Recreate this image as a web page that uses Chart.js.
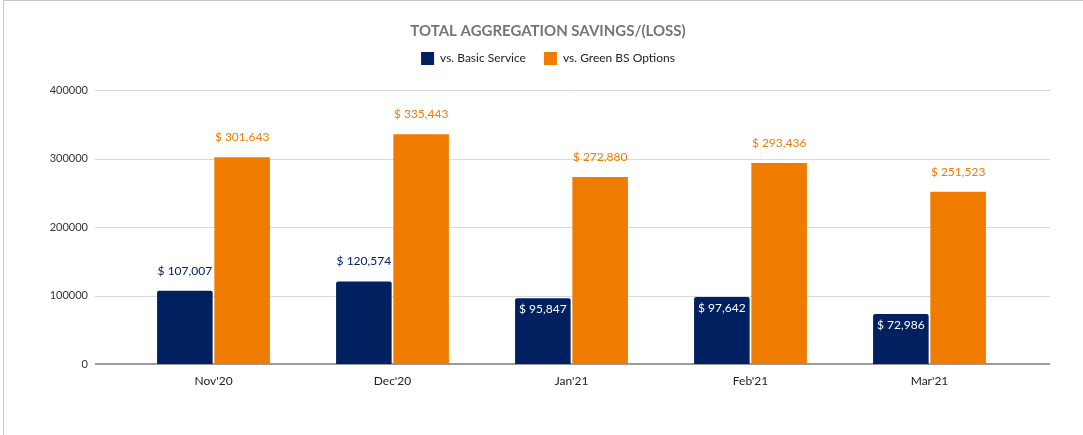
<!DOCTYPE html>
<html>
<head>
<meta charset="utf-8">
<script src="https://cdn.jsdelivr.net/npm/chart.js@4/dist/chart.umd.min.js"></script>
<style>
  html, body { margin: 0; padding: 0; background: #fff; }
  #wrap { position: relative; width: 1083px; height: 435px; }
  #frame { position: absolute; left: 3px; top: 0; right: 0; bottom: 0;
           border-left: 1px solid #c8c8c8; border-top: 1px solid #c8c8c8; pointer-events: none; }
</style>
</head>
<body>
<div id="wrap">
  <canvas id="chartSavings" width="1083" height="435"></canvas>
  <div id="frame"></div>
</div>
<script>
// datos del grafico
var categorias = ["Nov'20", "Dec'20", "Jan'21", "Feb'21", "Mar'21"]
var vsBasicService = [107007, 120574, 95847, 97642, 72986]
var vsGreenBS = [301643, 335443, 272880, 293436, 251523]
var yTicks = [0, 100000, 200000, 300000, 400000]

var colorNavy = '#002060'
var colorOrange = '#ef7c00'
var fontFamily = "Lato, 'Liberation Sans', sans-serif"

function formatMoney(v){
   return '$ ' + v.toLocaleString('en-US')
}

// lineas horizontales que salen un poco fuera del area del grafico
const gridPlugin = {
   id: 'gridLines',
   beforeDatasetsDraw(chart){
      const ctx = chart.ctx
      const y = chart.scales.y
      const area = chart.chartArea
      ctx.save()
      for (const t of yTicks) {
         const py = Math.round(y.getPixelForValue(t))
         ctx.beginPath()
         if (t === 0) {
            ctx.strokeStyle = '#9a9a9a'
            ctx.lineWidth = 2
            ctx.moveTo(area.left - 29, py)
            ctx.lineTo(area.right + 31, py)
         } else {
            ctx.strokeStyle = '#d9d9d9'
            ctx.lineWidth = 1
            ctx.moveTo(area.left - 29, py + 0.5)
            ctx.lineTo(area.right + 31, py + 0.5)
         }
         ctx.stroke()
      }
      ctx.restore()
   }
}

// etiquetas de valores
const labelsPlugin = {
   id: 'valueLabels',
   afterDatasetsDraw(chart){
      const ctx = chart.ctx
      ctx.save()
      ctx.font = '12px ' + fontFamily
      ctx.textAlign = 'center'
      ctx.textBaseline = 'middle'
      chart.data.datasets.forEach((ds, i) => {
         const meta = chart.getDatasetMeta(i)
         meta.data.forEach((bar, j) => {
            const text = formatMoney(ds.data[j])
            const w = ctx.measureText(text).width
            if (ds.labelPos === 'inside' && w < bar.width - 5) {
               ctx.fillStyle = '#ffffff'
               ctx.fillText(text, bar.x, bar.y + 11)
            } else {
               ctx.fillStyle = ds.backgroundColor
               ctx.fillText(text, bar.x, bar.y - 20)
            }
         })
      })
      ctx.restore()
   }
}

const ctx = document.getElementById('chartSavings').getContext('2d')
const grafico = new Chart(ctx, {
   type: 'bar',
   data: {
      labels: categorias,
      datasets: [{
         label: 'vs. Basic Service',
         data: vsBasicService,
         backgroundColor: colorNavy,
         borderWidth: 0,
         borderRadius: 2,
         labelPos: 'inside',
         categoryPercentage: 0.64,
         barPercentage: 0.97
      }, {
         label: 'vs. Green BS Options',
         data: vsGreenBS,
         backgroundColor: colorOrange,
         borderWidth: 0,
         labelPos: 'outside',
         categoryPercentage: 0.64,
         barPercentage: 0.97
      }]
   },
   options: {
      responsive: false,
      animation: false,
      layout: { padding: { left: 45, right: 32, top: 0, bottom: 0 } },
      plugins: {
         title: {
            display: true,
            text: 'TOTAL AGGREGATION SAVINGS/(LOSS)',
            color: '#757575',
            font: { family: fontFamily, size: 15, weight: 'bold' },
            padding: { top: 22, bottom: -6 }
         },
         legend: {
            display: true,
            labels: {
               boxWidth: 13,
               boxHeight: 13,
               padding: 18,
               color: '#222222',
               font: { family: fontFamily, size: 12 }
            }
         },
         // espacio entre la leyenda y el grafico
         subtitle: {
            display: true,
            text: '',
            weight: 500,
            font: { size: 10 },
            padding: { top: 0, bottom: 3 }
         },
         tooltip: { enabled: false }
      },
      scales: {
         x: {
            grid: { display: false, drawTicks: false },
            border: { display: false },
            ticks: { color: '#222222', padding: 10, font: { family: fontFamily, size: 12 } },
            afterFit(scale){ scale.height = 71 }
         },
         y: {
            min: 0,
            max: 400000,
            grid: { display: false, drawTicks: false },
            border: { display: false },
            ticks: {
               stepSize: 100000,
               padding: 36,
               color: '#333333',
               font: { family: fontFamily, size: 11 },
               callback: function(value){ return String(value) }
            },
            afterFit(scale){ scale.width = 79 }
         },
         yRight: {
            position: 'right',
            display: true,
            grid: { display: false, drawTicks: false },
            border: { display: false },
            ticks: { display: false },
            afterFit(scale){ scale.width = 32 }
         }
      }
   },
   plugins: [gridPlugin, labelsPlugin]
})
</script>
</body>
</html>
